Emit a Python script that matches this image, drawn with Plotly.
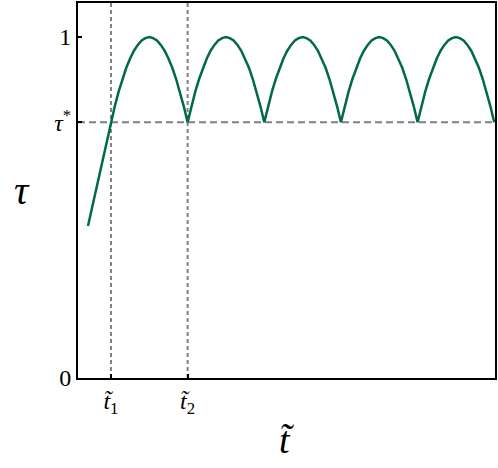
"""
Periodic tau(t~) trace with threshold tau* and crossing times t~1, t~2
"""
import plotly.graph_objects as go

# threshold and crossing times (x units: one period = 1)
tau_star = 0.75
t1 = 0.43
t2 = 1.43
x_max = 5.44
y_max = 1.1

# curve
t_curve = [
    0.13, 0.23, 0.33, 0.43,
    0.48, 0.53, 0.58, 0.63, 0.68, 0.73, 0.78, 0.83, 0.88, 0.93,
    0.98, 1.03, 1.08, 1.13, 1.18, 1.23, 1.28, 1.33, 1.38, 1.43,
    1.48, 1.53, 1.58, 1.63, 1.68, 1.73, 1.78, 1.83, 1.88, 1.93,
    1.98, 2.03, 2.08, 2.13, 2.18, 2.23, 2.28, 2.33, 2.38, 2.43,
    2.48, 2.53, 2.58, 2.63, 2.68, 2.73, 2.78, 2.83, 2.88, 2.93,
    2.98, 3.03, 3.08, 3.13, 3.18, 3.23, 3.28, 3.33, 3.38, 3.43,
    3.48, 3.53, 3.58, 3.63, 3.68, 3.73, 3.78, 3.83, 3.88, 3.93,
    3.98, 4.03, 4.08, 4.13, 4.18, 4.23, 4.28, 4.33, 4.38, 4.43,
    4.48, 4.53, 4.58, 4.63, 4.68, 4.73, 4.78, 4.83, 4.88, 4.93,
    4.98, 5.03, 5.08, 5.13, 5.18, 5.23, 5.28, 5.33, 5.38, 5.43,
]
tau_curve = [
    0.446, 0.548, 0.649, 0.75,
    0.797, 0.84, 0.877, 0.91, 0.937, 0.96, 0.977, 0.99, 0.997, 1.0,
    0.997, 0.99, 0.977, 0.96, 0.937, 0.91, 0.877, 0.84, 0.797, 0.75,
    0.797, 0.84, 0.877, 0.91, 0.937, 0.96, 0.977, 0.99, 0.997, 1.0,
    0.997, 0.99, 0.977, 0.96, 0.937, 0.91, 0.877, 0.84, 0.797, 0.75,
    0.797, 0.84, 0.877, 0.91, 0.937, 0.96, 0.977, 0.99, 0.997, 1.0,
    0.997, 0.99, 0.977, 0.96, 0.937, 0.91, 0.877, 0.84, 0.797, 0.75,
    0.797, 0.84, 0.877, 0.91, 0.937, 0.96, 0.977, 0.99, 0.997, 1.0,
    0.997, 0.99, 0.977, 0.96, 0.937, 0.91, 0.877, 0.84, 0.797, 0.75,
    0.797, 0.84, 0.877, 0.91, 0.937, 0.96, 0.977, 0.99, 0.997, 1.0,
    0.997, 0.99, 0.977, 0.96, 0.937, 0.91, 0.877, 0.84, 0.797, 0.75,
]

x_tickvals = [t1, t2]
x_ticktext = ["<i>t\u0303</i><sub>1</sub>", "<i>t\u0303</i><sub>2</sub>"]
y_tickvals = [0, tau_star, 1]
y_ticktext = ["0", "<i>\u03c4</i><sup>*</sup>", "1"]

SERIF = "Liberation Serif, Times New Roman, serif"
GREY = "#808080"

fig = go.Figure()

# reference lines
fig.add_trace(
    go.Scatter(
        x=[0, x_max],
        y=[tau_star, tau_star],
        mode="lines",
        line={"color": GREY, "width": 2, "dash": "7px,4px"},
        hoverinfo="skip",
    )
)
for tv in (t1, t2):
    fig.add_trace(
        go.Scatter(
            x=[tv, tv],
            y=[0, y_max],
            mode="lines",
            line={"color": GREY, "width": 2, "dash": "4px,3px"},
            hoverinfo="skip",
        )
    )

fig.add_trace(
    go.Scatter(
        x=t_curve,
        y=tau_curve,
        mode="lines",
        line={"color": "#006a46", "width": 2.5},
    )
)

axis_common = dict(
    showgrid=False,
    zeroline=False,
    showline=True,
    linecolor="black",
    linewidth=2,
    mirror=True,
    ticks="inside",
    ticklen=4,
    tickwidth=2,
    tickcolor="black",
    tickfont={"family": SERIF, "size": 24, "color": "black"},
)

fig.update_layout(
    width=498,
    height=468,
    margin={"l": 78, "r": 1, "t": 1, "b": 90},
    paper_bgcolor="white",
    plot_bgcolor="white",
    showlegend=False,
    xaxis=dict(
        range=[0, x_max],
        tickvals=x_tickvals,
        ticktext=x_ticktext,
        **axis_common,
    ),
    yaxis=dict(
        range=[0, y_max],
        tickvals=y_tickvals,
        ticktext=y_ticktext,
        **axis_common,
    ),
    annotations=[
        dict(
            text="<i>t\u0303</i>",
            xref="paper",
            yref="paper",
            x=0.5,
            y=0,
            yanchor="middle",
            yshift=-62,
            showarrow=False,
            font={"family": SERIF, "size": 38, "color": "black"},
        ),
        dict(
            text="<i>\u03c4</i>",
            xref="paper",
            yref="paper",
            x=0,
            y=0.5,
            xanchor="right",
            xshift=-46,
            showarrow=False,
            font={"family": SERIF, "size": 40, "color": "black"},
        ),
    ],
)

# drop the default page margin so the figure sits at the window corner
fig.write_html(
    "out.html",
    config={"displayModeBar": False},
    post_script="document.body.style.margin = '0';",
)
